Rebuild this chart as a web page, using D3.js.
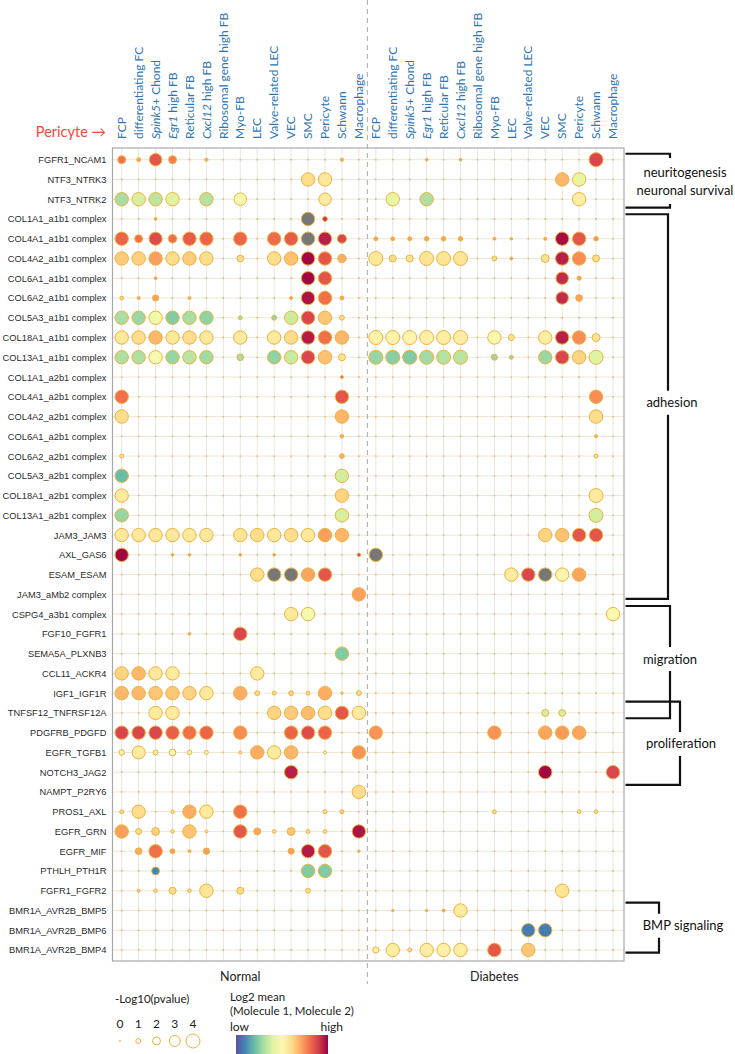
<!DOCTYPE html>
<html>
<head>
<meta charset="utf-8">
<script src="https://d3js.org/d3.v7.min.js"></script>
<style>
  body { margin: 0; background: #fff; }
  svg { display: block; }
</style>
</head>
<body>
<script>
// cell types (same order in both conditions)
var cellTypes = ["FCP", "differentiating FC", "Spink5+ Chond", "Egr1 high FB", "Reticular FB",
  "Cxcl12 high FB", "Ribosomal gene high FB", "Myo-FB", "LEC", "Valve-related LEC",
  "VEC", "SMC", "Pericyte", "Schwann", "Macrophage"];
var italicPart = {"Spink5+ Chond": "Spink5", "Egr1 high FB": "Egr1", "Cxcl12 high FB": "Cxcl12"};
var conditions = ["Normal", "Diabetes"];

// ligand-receptor pairs (rows)
var pairs = ["FGFR1_NCAM1", "NTF3_NTRK3", "NTF3_NTRK2", "COL1A1_a1b1 complex", "COL4A1_a1b1 complex",
  "COL4A2_a1b1 complex", "COL6A1_a1b1 complex", "COL6A2_a1b1 complex", "COL5A3_a1b1 complex",
  "COL18A1_a1b1 complex", "COL13A1_a1b1 complex", "COL1A1_a2b1 complex", "COL4A1_a2b1 complex",
  "COL4A2_a2b1 complex", "COL6A1_a2b1 complex", "COL6A2_a2b1 complex", "COL5A3_a2b1 complex",
  "COL18A1_a2b1 complex", "COL13A1_a2b1 complex", "JAM3_JAM3", "AXL_GAS6", "ESAM_ESAM",
  "JAM3_aMb2 complex", "CSPG4_a3b1 complex", "FGF10_FGFR1", "SEMA5A_PLXNB3", "CCL11_ACKR4",
  "IGF1_IGF1R", "TNFSF12_TNFRSF12A", "PDGFRB_PDGFD", "EGFR_TGFB1", "NOTCH3_JAG2", "NAMPT_P2RY6",
  "PROS1_AXL", "EGFR_GRN", "EGFR_MIF", "PTHLH_PTH1R", "FGFR1_FGFR2", "BMR1A_AVR2B_BMP5",
  "BMR1A_AVR2B_BMP6", "BMR1A_AVR2B_BMP4"];

// [row, cell, -log10(p), scaled log2 mean (0 low .. 1 high, null = grey)]
var normalDots = [
  [0,0,2.0,0.8],[0,1,0.7,0.72],[0,2,3.5,0.85],[0,3,2.0,0.78],[0,5,0.5,0.7],[0,13,0.5,0.7],
  [1,11,3.8,0.6],[1,12,3.8,0.57],
  [2,0,3.8,0.3],[2,1,3.8,0.38],[2,2,3.8,0.33],[2,3,3.8,0.4],[2,5,3.8,0.32],[2,7,3.5,0.46],[2,12,3.5,0.56],
  [3,2,0.3,0.75],[3,11,3.8,null],[3,12,1.0,0.92],
  [4,0,3.8,0.82],[4,1,2.0,0.8],[4,2,3.7,0.87],[4,3,2.2,0.8],[4,4,3.8,0.84],[4,5,3.8,0.82],[4,7,3.8,0.82],
  [4,9,3.8,0.81],[4,10,3.8,0.84],[4,11,3.8,null],[4,12,3.8,0.95],[4,13,2.4,0.88],
  [5,0,3.8,0.64],[5,1,3.8,0.63],[5,2,3.8,0.72],[5,3,3.8,0.6],[5,4,3.8,0.64],[5,5,3.8,0.6],[5,7,1.6,0.6],
  [5,9,3.8,0.6],[5,10,3.8,0.66],[5,11,3.8,0.99],[5,12,3.8,0.85],[5,13,2.2,0.7],
  [6,2,0.3,0.75],[6,11,3.8,0.99],[6,12,3.8,0.85],
  [7,0,0.6,0.62],[7,1,0.4,0.7],[7,2,1.4,0.72],[7,4,0.4,0.7],[7,10,0.4,0.7],[7,11,3.8,0.97],[7,12,3.8,0.8],[7,13,0.7,0.72],
  [8,0,3.8,0.3],[8,1,3.8,0.28],[8,2,3.8,0.45],[8,3,3.8,0.24],[8,4,3.8,0.3],[8,5,3.8,0.26],[8,7,0.7,0.3],
  [8,9,1.0,0.27],[8,10,3.8,0.36],[8,11,3.8,0.88],[8,12,3.8,0.65],[8,13,1.0,0.6],
  [9,0,3.8,0.57],[9,1,3.8,0.6],[9,2,3.8,0.68],[9,3,3.8,0.57],[9,4,3.8,0.6],[9,5,3.8,0.57],[9,7,3.8,0.56],
  [9,9,3.8,0.56],[9,10,3.8,0.6],[9,11,3.8,0.96],[9,12,3.8,0.8],[9,13,3.8,0.68],
  [10,0,3.8,0.31],[10,1,3.8,0.31],[10,2,3.8,0.47],[10,3,3.8,0.27],[10,4,3.8,0.33],[10,5,3.8,0.29],[10,7,1.6,0.3],
  [10,9,3.8,0.26],[10,10,3.8,0.35],[10,11,3.8,0.88],[10,12,3.8,0.66],[10,13,1.7,0.58],
  [11,13,0.4,0.8],
  [12,0,3.8,0.8],[12,13,3.8,0.85],
  [13,0,3.8,0.6],[13,13,3.8,0.68],
  [14,13,0.6,0.7],
  [15,0,0.7,0.6],[15,13,1.0,0.7],
  [16,0,3.8,0.2],[16,13,3.8,0.37],
  [17,0,3.8,0.56],[17,13,3.8,0.62],
  [18,0,3.8,0.27],[18,13,3.8,0.38],
  [19,0,3.8,0.57],[19,1,3.8,0.57],[19,2,3.8,0.57],[19,3,3.8,0.57],[19,4,3.8,0.57],[19,5,3.8,0.57],
  [19,7,3.8,0.58],[19,8,3.8,0.6],[19,9,3.8,0.57],[19,10,3.8,0.6],[19,11,3.8,0.57],[19,12,3.8,0.72],[19,13,3.8,0.68],
  [20,0,3.8,0.99],[20,3,0.25,0.75],[20,4,0.25,0.75],[20,7,0.25,0.75],[20,9,0.25,0.75],[20,14,0.6,0.88],
  [21,8,3.8,0.6],[21,9,3.8,null],[21,10,3.8,null],[21,11,3.8,0.71],[21,12,3.8,0.85],
  [22,14,3.8,0.72],
  [23,10,3.8,0.57],[23,11,3.8,0.47],
  [24,4,0.25,0.75],[24,7,3.8,0.88],
  [25,13,3.8,0.24],
  [26,0,3.8,0.62],[26,1,3.8,0.68],[26,2,3.8,0.57],[26,3,3.8,0.56],[26,8,3.8,0.56],
  [27,0,3.8,0.68],[27,1,3.8,0.68],[27,2,3.8,0.65],[27,3,3.8,0.65],[27,4,3.8,0.62],[27,5,3.8,0.57],[27,7,3.8,0.7],
  [27,8,1.0,0.6],[27,9,0.7,0.6],[27,10,1.0,0.62],[27,11,0.7,0.6],[27,12,3.8,0.7],[27,13,0.25,0.62],[27,14,1.0,0.6],
  [28,2,3.8,0.56],[28,3,3.8,0.56],[28,9,3.8,0.62],[28,10,3.8,0.64],[28,11,3.8,0.67],[28,12,3.8,0.6],[28,13,3.8,0.85],[28,14,3.8,0.56],
  [29,0,3.8,0.88],[29,1,3.8,0.88],[29,2,3.8,0.88],[29,3,3.8,0.83],[29,4,3.8,0.8],[29,5,3.8,0.82],[29,7,3.8,0.75],
  [29,10,3.8,0.82],[29,11,3.8,0.87],[29,12,3.8,0.82],
  [30,0,1.25,0.43],[30,1,3.7,0.56],[30,2,1.0,0.45],[30,3,1.6,0.5],[30,4,0.9,0.45],[30,5,0.7,0.45],[30,7,0.4,0.6],
  [30,8,3.8,0.7],[30,9,3.8,0.56],[30,10,3.8,0.68],[30,12,0.4,0.45],[30,14,3.8,0.74],
  [31,10,3.8,0.95],
  [32,14,3.8,0.6],
  [33,0,0.7,0.6],[33,1,3.8,0.6],[33,3,0.6,0.6],[33,4,3.8,0.7],[33,5,3.8,0.56],[33,7,3.8,0.8],[33,12,0.7,0.6],[33,13,0.7,0.62],
  [34,0,3.8,0.72],[34,1,1.4,0.6],[34,2,2.0,0.63],[34,3,0.6,0.6],[34,4,3.8,0.65],[34,5,0.4,0.6],[34,7,3.8,0.85],
  [34,8,1.7,0.71],[34,9,0.6,0.6],[34,10,2.0,0.65],[34,11,0.7,0.6],[34,12,0.6,0.6],[34,14,3.8,0.97],
  [35,1,1.6,0.7],[35,2,3.8,0.8],[35,3,1.0,0.72],[35,4,0.4,0.7],[35,5,1.5,0.72],[35,10,1.4,0.72],[35,11,3.8,0.96],
  [35,12,3.8,0.85],[35,14,0.25,0.7],
  [36,2,2.0,0.1],[36,11,3.8,0.24],[36,12,3.8,0.24],
  [37,1,0.4,0.65],[37,2,0.6,0.62],[37,3,1.7,0.6],[37,4,0.6,0.62],[37,5,3.8,0.58],[37,7,1.7,0.6],[37,11,1.0,0.6]
];
var diabetesDots = [
  [0,3,0.3,0.72],[0,5,0.3,0.72],[0,13,4.0,0.88],
  [1,11,3.8,0.68],[1,12,3.8,0.42],
  [2,1,3.8,0.42],[2,3,3.8,0.31],[2,12,3.8,0.55],
  [4,0,0.7,0.72],[4,1,0.7,0.72],[4,2,0.7,0.72],[4,3,0.9,0.72],[4,4,0.9,0.72],[4,5,0.9,0.72],[4,7,0.4,0.72],
  [4,8,0.25,0.72],[4,10,0.4,0.72],[4,11,3.8,0.98],[4,12,3.8,0.85],[4,13,0.9,0.75],
  [5,0,4.0,0.57],[5,1,1.7,0.6],[5,2,1.7,0.58],[5,3,4.0,0.58],[5,4,4.0,0.58],[5,5,4.0,0.58],[5,7,1.0,0.6],
  [5,8,0.4,0.72],[5,10,2.0,0.58],[5,11,3.8,0.95],[5,12,3.8,0.75],[5,13,1.7,0.6],
  [6,11,3.5,0.93],[6,12,0.7,0.72],
  [7,11,3.5,0.93],[7,12,1.6,0.72],
  [9,0,4.0,0.53],[9,1,4.0,0.53],[9,2,4.0,0.52],[9,3,4.0,0.54],[9,4,4.0,0.55],[9,5,4.0,0.55],[9,7,3.8,0.5],
  [9,8,1.4,0.58],[9,10,3.8,0.55],[9,11,3.8,0.95],[9,12,3.8,0.75],[9,13,2.0,0.58],
  [10,0,4.0,0.27],[10,1,4.0,0.25],[10,2,4.0,0.24],[10,3,4.0,0.29],[10,4,4.0,0.32],[10,5,4.0,0.33],[10,7,1.4,0.28],
  [10,8,0.7,0.27],[10,10,3.8,0.28],[10,11,3.8,0.88],[10,12,3.8,0.62],[10,13,4.0,0.4],
  [12,13,3.8,0.75],
  [13,13,3.8,0.6],
  [14,13,0.4,0.7],
  [15,13,0.7,0.6],
  [17,13,4.0,0.56],
  [18,13,4.0,0.37],
  [19,10,3.8,0.62],[19,11,3.8,0.66],[19,12,3.8,0.85],[19,13,3.8,0.85],
  [20,0,3.8,null],
  [21,8,3.8,0.56],[21,9,3.8,0.88],[21,10,3.8,null],[21,11,3.8,0.52],[21,12,3.8,0.71],
  [23,14,3.8,0.5],
  [28,10,1.7,0.38],[28,11,1.6,0.38],
  [29,0,3.8,0.74],[29,7,3.8,0.74],[29,10,3.8,0.71],[29,11,3.8,0.73],[29,12,3.8,0.71],
  [31,10,3.8,0.99],[31,14,3.8,0.88],
  [33,7,0.7,0.6],[33,12,0.6,0.6],[33,13,0.6,0.6],
  [37,11,3.8,0.58],
  [38,1,0.2,0.7],[38,3,0.2,0.7],[38,4,0.4,0.72],[38,5,3.8,0.56],
  [39,9,3.8,0.08],[39,10,3.8,0.08],
  [40,0,1.4,0.53],[40,1,3.8,0.55],[40,2,0.7,0.6],[40,3,3.8,0.55],[40,4,3.8,0.54],[40,5,3.8,0.55],[40,7,3.8,0.85],[40,9,3.8,0.65]
];

// process annotations on the right, in row units
var brackets = [
  {lines: ["neuritogenesis", "neuronal survival"], from: -0.3, to: 2.43, vx: 670, lx: 685, at: 1.08},
  {lines: ["adhesion"], from: 2.76, to: 22.23, vx: 668, lx: 672, at: 12.3},
  {lines: ["migration"], from: 22.59, to: 28.27, vx: 670, lx: 670, at: 25.27},
  {lines: ["proliferation"], from: 27.43, to: 31.64, vx: 680, lx: 681, at: 29.57},
  {lines: ["BMP signaling"], from: 37.6, to: 40.13, vx: 659, lx: 683, at: 38.77}
];
var pLegend = [0, 1, 2, 3, 4];

var W = 735, H = 1054;
var plot = {left: 112.5, right: 624, top: 148, bottom: 961};
var calibri = "Lato, 'Open Sans', sans-serif";

var columns = [];
conditions.forEach(function(c) { cellTypes.forEach(function(t) { columns.push(c + "|" + t); }); });

var x = d3.scalePoint().domain(columns).range([121.7, 613]);
var y = d3.scalePoint().domain(pairs).range([159.7, 950]);
var r = d3.scaleLinear().domain([0, 4]).range([0.9, 7]);
var color = function(v) { return v == null ? "#777777" : d3.interpolateSpectral(1 - v); };
var yAt = function(f) { return y.range()[0] + f * y.step(); };

var svg = d3.select("body").append("svg")
    .attr("width", W)
    .attr("height", H);

// grid
svg.append("g").selectAll("line.v")
    .data(columns).enter().append("line")
    .attr("x1", function(d) { return x(d); }).attr("x2", function(d) { return x(d); })
    .attr("y1", plot.top).attr("y2", plot.bottom)
    .attr("stroke", "#ece6d8").attr("stroke-width", 1);
svg.append("g").selectAll("line.h")
    .data(pairs).enter().append("line")
    .attr("y1", function(d) { return y(d); }).attr("y2", function(d) { return y(d); })
    .attr("x1", plot.left).attr("x2", plot.right)
    .attr("stroke", "#ece6d8").attr("stroke-width", 1);

// tiny dots for every cell (p = 0)
var allCells = [];
pairs.forEach(function(p) { columns.forEach(function(c) { allCells.push([p, c]); }); });
svg.append("g").selectAll("circle")
    .data(allCells).enter().append("circle")
    .attr("cx", function(d) { return x(d[1]); })
    .attr("cy", function(d) { return y(d[0]); })
    .attr("r", r(0))
    .attr("fill", "#eab868");

// frame
svg.append("rect")
    .attr("x", plot.left).attr("y", plot.top)
    .attr("width", plot.right - plot.left).attr("height", plot.bottom - plot.top)
    .attr("fill", "none").attr("stroke", "#a8a8a8").attr("stroke-width", 1.2);

// dashed split between conditions
var splitX = (x("Normal|Macrophage") + x("Diabetes|FCP")) / 2;
svg.append("line")
    .attr("x1", splitX).attr("x2", splitX).attr("y1", 0).attr("y2", 984)
    .attr("stroke", "#a8a8a8").attr("stroke-width", 1).attr("stroke-dasharray", "5,4");

// data dots
var dots = normalDots.map(function(d) { return {row: pairs[d[0]], col: "Normal|" + cellTypes[d[1]], p: d[2], v: d[3]}; })
  .concat(diabetesDots.map(function(d) { return {row: pairs[d[0]], col: "Diabetes|" + cellTypes[d[1]], p: d[2], v: d[3]}; }));
svg.append("g").selectAll("circle")
    .data(dots).enter().append("circle")
    .attr("cx", function(d) { return x(d.col); })
    .attr("cy", function(d) { return y(d.row); })
    .attr("r", function(d) { return r(d.p); })
    .attr("fill", function(d) { return color(d.v); })
    .attr("stroke", "#ecb23e")
    .attr("stroke-width", 1);

// row labels
var yAxis = svg.append("g")
    .attr("transform", "translate(" + plot.left + ",0)")
    .call(d3.axisLeft(y).tickSize(0).tickPadding(6));
yAxis.select(".domain").remove();
yAxis.selectAll("text")
    .attr("font-family", "'Liberation Sans', Arial, sans-serif")
    .attr("font-size", 9.3)
    .attr("fill", "#2a2a2a");

// column labels
var head = svg.append("g").selectAll("text")
    .data(columns).enter().append("text")
    .attr("transform", function(d) { return "translate(" + x(d) + ",139) rotate(-90)"; })
    .attr("dy", "0.35em")
    .attr("font-family", calibri)
    .attr("font-size", 12)
    .attr("fill", "#2e75b6");
head.each(function(d) {
  var t = d.split("|")[1];
  var it = italicPart[t];
  var el = d3.select(this);
  if (it) {
    el.append("tspan").attr("font-style", "italic").text(it);
    el.append("tspan").text(t.slice(it.length));
  } else {
    el.text(t);
  }
});

svg.append("text")
    .attr("x", 106).attr("y", 137)
    .attr("text-anchor", "end")
    .attr("font-family", calibri)
    .attr("font-size", 14.5)
    .attr("fill", "#ec4a3c")
    .text("Pericyte \u2192");

// condition labels
conditions.forEach(function(c) {
  var cx = (x(c + "|FCP") + x(c + "|Macrophage")) / 2;
  svg.append("text")
      .attr("x", cx).attr("y", 981)
      .attr("text-anchor", "middle")
      .attr("font-family", calibri)
      .attr("font-size", 12.5)
      .attr("fill", "#222")
      .text(c);
});

// brackets
brackets.forEach(function(b) {
  var y0 = yAt(b.from), y1 = yAt(b.to), yc = yAt(b.at);
  var gap = b.lines.length * 11 + 1;
  var x0 = plot.right + 1.5;
  svg.append("path")
      .attr("d", "M" + x0 + "," + y0 + "H" + b.vx + "V" + (yc - gap) +
                 "M" + b.vx + "," + (yc + gap) + "V" + y1 + "H" + x0)
      .attr("fill", "none").attr("stroke", "#111").attr("stroke-width", 2.2);
  b.lines.forEach(function(l, i) {
    svg.append("text")
        .attr("x", b.lx)
        .attr("y", yc + (i - (b.lines.length - 1) / 2) * 18)
        .attr("dy", "0.35em")
        .attr("text-anchor", "middle")
        .attr("font-family", calibri)
        .attr("font-size", 13)
        .attr("fill", "#111")
        .text(l);
  });
});

// size legend
var sl = svg.append("g");
sl.append("text").attr("x", 115).attr("y", 1003)
    .attr("font-family", calibri).attr("font-size", 11.5).attr("fill", "#222")
    .text("-Log10(pvalue)");
var lx = d3.scalePoint().domain(pLegend).range([120, 193]);
sl.selectAll("text.n").data(pLegend).enter().append("text")
    .attr("x", function(d) { return lx(d); }).attr("y", 1028)
    .attr("text-anchor", "middle")
    .attr("font-family", calibri).attr("font-size", 12).attr("fill", "#222")
    .text(function(d) { return d; });
sl.selectAll("circle").data(pLegend).enter().append("circle")
    .attr("cx", function(d) { return lx(d); }).attr("cy", 1041)
    .attr("r", function(d) { return r(d); })
    .attr("fill", function(d) { return d === 0 ? "#eab868" : "#fff"; })
    .attr("stroke", function(d) { return d === 0 ? "none" : "#ecb23e"; })
    .attr("stroke-width", 1);

// colour legend
var grad = svg.append("defs").append("linearGradient").attr("id", "spec");
d3.range(0, 1.0001, 0.1).forEach(function(t) {
  grad.append("stop").attr("offset", t).attr("stop-color", d3.interpolateSpectral(1 - t));
});
var cl = svg.append("g");
cl.append("text").attr("x", 230).attr("y", 1001)
    .attr("font-family", calibri).attr("font-size", 11.5).attr("fill", "#222").text("Log2 mean");
cl.append("text").attr("x", 230).attr("y", 1015)
    .attr("font-family", calibri).attr("font-size", 11.5).attr("fill", "#222").text("(Molecule 1, Molecule 2)");
cl.append("text").attr("x", 230).attr("y", 1031)
    .attr("font-family", calibri).attr("font-size", 12).attr("fill", "#222").text("low");
cl.append("text").attr("x", 343).attr("y", 1031).attr("text-anchor", "end")
    .attr("font-family", calibri).attr("font-size", 12).attr("fill", "#222").text("high");
cl.append("rect").attr("x", 236).attr("y", 1035).attr("width", 92).attr("height", 19)
    .attr("fill", "url(#spec)");
</script>
</body>
</html>
